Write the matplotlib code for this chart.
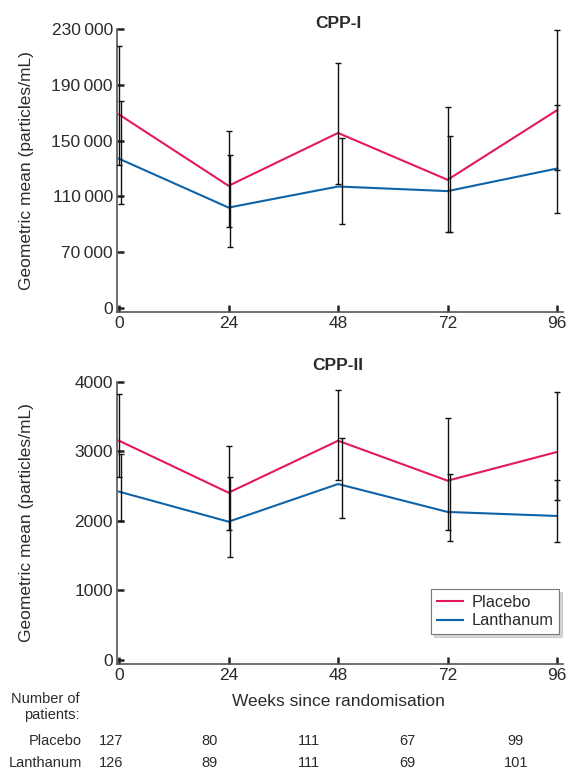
import numpy as np
import matplotlib
matplotlib.use("Agg")
import matplotlib.pyplot as plt
from matplotlib.ticker import FuncFormatter

plt.rcParams["font.family"] = ["Liberation Sans", "DejaVu Sans"]

weeks = [0, 24, 48, 72, 96]

# CPP-I geometric means and 95% CI (particles/mL)
cpp1_placebo = [168700, 117600, 155500, 121900, 171800]
cpp1_placebo_lo = [132500, 88000, 118800, 84200, 129100]
cpp1_placebo_hi = [217900, 157000, 205400, 174300, 229000]
cpp1_lanth = [137000, 102000, 117100, 113800, 130000]
cpp1_lanth_lo = [104600, 73400, 90000, 84200, 98100]
cpp1_lanth_hi = [178300, 139400, 151700, 153400, 175700]

# CPP-II
cpp2_placebo = [3155, 2407, 3155, 2580, 2993]
cpp2_placebo_lo = [2629, 1866, 2585, 1871, 2298]
cpp2_placebo_hi = [3823, 3083, 3889, 3478, 3852]
cpp2_lanth = [2422, 1990, 2532, 2130, 2072]
cpp2_lanth_lo = [2004, 1478, 2039, 1708, 1694]
cpp2_lanth_hi = [2964, 2637, 3198, 2672, 2590]

n_placebo = [127, 80, 111, 67, 99]
n_lanth = [126, 89, 111, 69, 101]

red = "#E4195A"
blue = "#0F63A8"
txt = "#2b2b2b"
spine_c = "#555555"

fig = plt.figure(figsize=(5.69, 7.71), dpi=100)
ax1 = fig.add_axes([117 / 569, 1 - 312 / 771, (563 - 117) / 569, (312 - 29) / 771])
ax2 = fig.add_axes([117 / 569, 1 - 664 / 771, (563 - 117) / 569, (664 - 382) / 771])

# broken axis below 70 000 in CPP-I: 0..70000 squeezed into one 40 000 step
def fwd(v):
    v = np.asarray(v, dtype=float)
    return np.where(v < 70000, v * 40000 / 70000, v - 30000)

def inv(t):
    t = np.asarray(t, dtype=float)
    return np.where(t < 40000, t * 70000 / 40000, t + 30000)

ax1.set_yscale("function", functions=(fwd, inv))

xoff = [0.45, 0.3, 0.9, 0.5, 0.0]


def draw(ax, p, plo, phi, l, llo, lhi):
    x = np.array(weeks, dtype=float)
    p, plo, phi = np.array(p), np.array(plo), np.array(phi)
    l, llo, lhi = np.array(l), np.array(llo), np.array(lhi)
    ax.plot(x, p, color=red, lw=1.5, label="Placebo", zorder=3)
    ax.plot(x, l, color=blue, lw=1.5, label="Lanthanum", zorder=3)
    ax.errorbar(x, p, yerr=[p - plo, phi - p], fmt="none", ecolor="#111111",
                elinewidth=1.0, capsize=2, capthick=1.0, zorder=4)
    ax.errorbar(x + np.array(xoff), l, yerr=[l - llo, lhi - l], fmt="none",
                ecolor="#111111", elinewidth=1.0, capsize=2, capthick=1.0, zorder=4)
    ax.set_xlim(-0.45, 97.3)
    ax.set_xticks(weeks)
    for s in ["top", "right"]:
        ax.spines[s].set_visible(False)
    for s in ["left", "bottom"]:
        ax.spines[s].set_color(spine_c)
        ax.spines[s].set_linewidth(1.2)
    ax.tick_params(direction="in", length=5, width=1.8, color="#222222",
                   labelsize=12.5, labelcolor=txt, pad=3)
    ax.set_ylabel("Geometric mean (particles/mL)", fontsize=12.5, color=txt)


draw(ax1, cpp1_placebo, cpp1_placebo_lo, cpp1_placebo_hi,
     cpp1_lanth, cpp1_lanth_lo, cpp1_lanth_hi)
draw(ax2, cpp2_placebo, cpp2_placebo_lo, cpp2_placebo_hi,
     cpp2_lanth, cpp2_lanth_lo, cpp2_lanth_hi)

ax1.set_ylim(-5000, 230000)
ax1.set_yticks([0, 70000, 110000, 150000, 190000, 230000])
ax1.yaxis.set_major_formatter(FuncFormatter(
    lambda v, pos: "0" if v == 0 else f"{int(v) // 1000}\u2009{int(v) % 1000:03d}"))
ax2.set_ylim(-58, 4000)
ax2.set_yticks([0, 1000, 2000, 3000, 4000])
ax1.yaxis.set_label_coords(-0.185, 0.5)
ax2.yaxis.set_label_coords(-0.185, 0.5)

leg = ax2.legend(loc="lower right", bbox_to_anchor=(0.991, 0.106), fontsize=11.8,
                 frameon=True, fancybox=False,
                 shadow={"color": "#bbbbbb", "alpha": 0.6},
                 handlelength=1.6, borderpad=0.35, labelspacing=0.2,
                 handletextpad=0.5, borderaxespad=0)
leg.get_frame().set_edgecolor("#777777")
leg.get_frame().set_linewidth(0.8)
for t in leg.get_texts():
    t.set_color(txt)

fig.text(338 / 569, 1 - 23 / 771, "CPP-I", ha="center", va="center",
         fontsize=12.5, fontweight="bold", color=txt)
fig.text(338 / 569, 1 - 366 / 771, "CPP-II", ha="center", va="center",
         fontsize=12.5, fontweight="bold", color=txt)

fig.text(338 / 569, 1 - 701 / 771, "Weeks since randomisation", ha="center",
         va="center", fontsize=12.5, color=txt)
fig.text(80 / 569, 1 - 699 / 771, "Number of", ha="right", va="center",
         fontsize=10.5, color=txt)
fig.text(80 / 569, 1 - 715 / 771, "patients:", ha="right", va="center",
         fontsize=10.5, color=txt)
fig.text(82 / 569, 1 - 741 / 771, "Placebo", ha="right", va="center",
         fontsize=10.5, color=txt)
fig.text(82 / 569, 1 - 763 / 771, "Lanthanum", ha="right", va="center",
         fontsize=10.5, color=txt)
col_x = [111, 210, 309, 407, 516]
for cx, a, b in zip(col_x, n_placebo, n_lanth):
    fig.text(cx / 569, 1 - 741 / 771, str(a), ha="center", va="center",
             fontsize=10.5, color=txt)
    fig.text(cx / 569, 1 - 763 / 771, str(b), ha="center", va="center",
             fontsize=10.5, color=txt)

fig.savefig("out.png", dpi=100)
